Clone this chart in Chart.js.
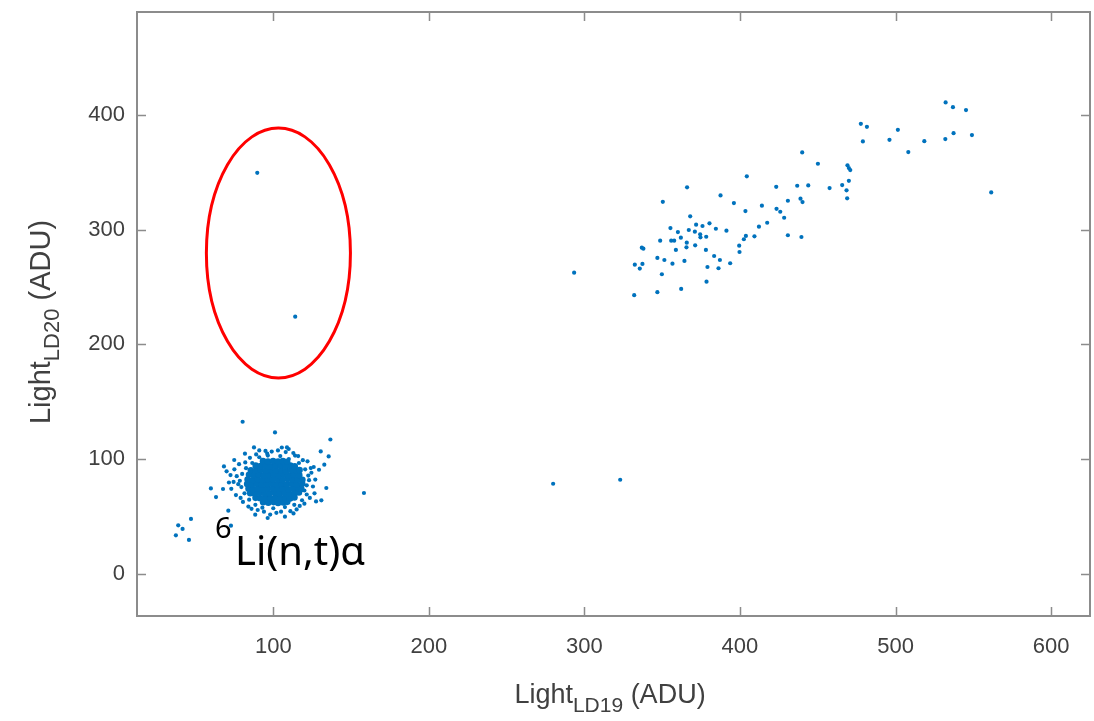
<!DOCTYPE html>
<html>
<head>
<meta charset="utf-8">
<script src="https://cdn.jsdelivr.net/npm/chart.js@4"></script>
<style>
  html, body { margin: 0; padding: 0; background: #fff; }
  #wrap { width: 1094px; height: 721px; }
</style>
</head>
<body>
<div id="wrap"><canvas id="scatterChart" width="1094" height="721"></canvas></div>
<script>
"use strict";

// axis ranges and tick labels
const xRange = [12.4, 625];
const yRange = [-37, 490];
const xTicks = [100, 200, 300, 400, 500, 600];
const yTicks = [0, 100, 200, 300, 400];

// saturated core of the 6Li(n,t)alpha blob
const corePoints = [
  [93.5,62.2],[96.8,61.8],[100.2,62.4],[103.1,61.7],[106.4,62.1],[109.0,62.6],
  [88.6,66.1],[91.5,65.7],[94.9,66.3],[98.0,65.8],[101.3,66.4],[104.6,65.9],[107.7,66.2],[110.8,65.6],[113.6,66.5],
  [85.2,70.2],[88.1,69.8],[91.4,70.4],[94.6,69.7],[97.7,70.1],[100.9,70.5],[104.2,69.9],[107.3,70.3],[110.4,69.6],[113.7,70.2],[116.5,70.8],
  [84.1,74.1],[87.0,73.8],[90.2,74.4],[93.3,73.7],[96.5,74.2],[99.8,74.5],[103.0,73.9],[106.1,74.3],[109.5,73.6],[112.6,74.2],[115.9,74.6],[118.0,73.9],
  [83.2,78.2],[86.4,77.9],[89.5,78.4],[92.7,77.6],[95.9,78.1],[99.1,78.5],[102.4,77.8],[105.6,78.3],[108.8,77.7],[112.0,78.4],[115.2,78.0],[118.6,78.3],
  [83.5,82.1],[86.9,81.7],[90.1,82.3],[93.2,81.8],[96.4,82.4],[99.7,81.9],[102.9,82.2],[106.0,81.6],[109.3,82.5],[112.5,81.9],[115.6,82.2],[118.7,81.8],
  [84.4,86.2],[87.6,85.8],[90.8,86.4],[94.0,85.7],[97.2,86.1],[100.4,86.5],[103.6,85.9],[106.8,86.3],[110.0,85.6],[113.3,86.2],[116.7,85.9],
  [85.6,90.1],[88.9,89.7],[92.1,90.3],[95.3,89.8],[98.5,90.4],[101.8,89.9],[105.0,90.2],[108.2,89.6],[111.4,90.3],[114.5,89.8],[116.9,90.4],
  [88.7,94.2],[91.9,93.8],[95.0,94.3],[98.3,93.7],[101.5,94.1],[104.7,94.4],[107.9,93.9],[111.0,94.2],[113.8,93.6],
  [93.4,98.1],[96.6,97.7],[99.9,98.3],[103.1,97.8],[106.2,98.2],[108.9,97.6]
];

// ragged edge of the blob
const fringePoints = [
  [78.5,81],[79.5,75.5],[80,87],[81.5,70],[82.5,92],[84.5,64.5],[86.5,96.5],[88.5,60],
  [91,101.5],[93,57.5],[96.5,103],[100,57],[104.5,102.5],[107.5,58],[110,100],[113.5,60],
  [116.5,96.5],[118.5,64],[120.5,91],[121.5,69],[122.5,85.5],[121.5,77],[123,81.5],[120,72.5],
  [76.5,85],[77.5,78],[82,97],[89,104],[95,107],[103,107.5],[108,106],[114,103],[119,99],
  [124.5,88],[125.5,76],[123.5,66],[117,59],[111,54.5],[102,53],[94,54],[86,56.5],[80.5,62.5],
  [76,68.5],[74.5,80],[72.5,86],[75,91],[78,95.5],[73,74],[79,66],[84,58.5],[90,55.5],
  [98,51.5],[105,54],[115,56],[120,61],[126.5,70],[127,82],[126,93],[122,98],[116,102.5],
  [99,106.5],[85,101],[71.5,79.5],[127.5,63],[113,52.5],[91,107.5],[105.5,110]
];

// isolated events around the blob
const haloPoints = [
  [80.3,132.5],[101.1,123.2],[136.7,117.0],[87.6,110.1],[108.8,110.1],[109.9,108.7],[112.9,105.2],
  [130.5,106.6],[135.6,102.2],[81.8,104.6],[96.1,104.6],[74.9,99.1],[132.8,95.0],[68.3,93.5],
  [70.0,89.2],[129.4,90.6],[124.1,92.1],[59.9,74.3],[67.7,73.8],[63.2,66.8],[134.1,74.7],
  [130.9,63.9],[158.3,70.3],[71.1,54.9],[88.4,51.4],[96.4,48.5],[107.5,49.7],[72.8,41.8],
  [47.1,47.7],[38.9,42.1],[41.7,39.0],[37.4,33.4],[45.8,29.4],[279.9,78.4],[323.0,81.9]
];

// the two events inside the red ellipse
const circledPoints = [[89.7,349.7],[114.1,224.2]];

// the high-light band
const bandPoints = [
  [477.7,392.4],[481.6,389.8],[501.5,387.2],[479.0,377.1],[496.1,378.5],[440.0,367.5],[450.1,357.6],
  [469.1,356.2],[470.0,353.8],[470.9,352.1],[404.4,346.6],[470.0,342.7],[366.0,337.0],[423.3,337.5],
  [436.8,338.4],[443.9,338.7],[457.6,336.4],[465.7,339.0],[468.5,334.4],[468.9,327.4],[387.5,330.0],
  [350.4,324.4],[396.1,323.3],[414.1,321.0],[430.8,325.3],[438.9,327.1],[440.2,324.2],[403.5,316.3],
  [423.5,318.3],[425.9,315.7],[368.0,311.7],[428.4,310.5],[417.5,306.1],[412.2,302.7],[355.3,301.5],
  [371.8,304.4],[375.9,303.3],[380.4,305.6],[384.5,300.9],[391.3,299.2],[367.1,299.8],[371.0,298.3],
  [360.1,298.0],[374.4,296.0],[374.6,293.4],[378.3,293.9],[362.0,293.1],[403.8,294.6],[402.5,291.7],
  [409.3,294.3],[430.8,295.2],[439.5,293.7],[348.7,290.5],[355.8,290.5],[357.7,290.5],[365.8,288.7],
  [365.6,284.7],[371.2,286.4],[399.5,286.1],[336.9,284.4],[337.9,283.5],[358.8,282.4],[378.1,282.4],
  [399.7,280.6],[346.9,275.4],[351.4,273.6],[364.3,272.8],[356.6,270.4],[383.4,277.1],[387.1,273.6],
  [393.7,270.8],[332.4,269.5],[337.3,270.2],[335.6,266.1],[379.1,267.5],[386.2,266.4],[349.8,261.2],
  [378.5,254.7],[362.2,248.4],[346.9,245.5],[332.0,242.9],[293.4,262.6],
  [532.2,411.1],[536.9,407.0],[545.3,404.4],[508.2,367.8],[518.5,377.3],[532.0,379.1],[537.3,384.3],
  [549.1,382.6],[561.5,332.6]
];

// ellipse annotation: centre and radii in data units
const ellipseCenter = [103.3, 279.7];
const ellipseRadii = [46.3, 109];
const annotationAnchor = [75.4, 7.8];

const dotColor = "#0072BD";
const axisColor = "#8c8c8c";
const textColor = "#404040";

function toXY(list) {
  return list.map(p => ({ x: p[0], y: p[1] }));
}

function drawSubscripted(ctx, parts, cx, cy) {
  // parts: [text, fontPx, dy]
  let total = 0;
  parts.forEach(p => {
    ctx.font = p[1] + "px 'Liberation Sans', Arial, sans-serif";
    total += ctx.measureText(p[0]).width;
  });
  let x = cx - total / 2;
  parts.forEach(p => {
    ctx.font = p[1] + "px 'Liberation Sans', Arial, sans-serif";
    ctx.fillText(p[0], x, cy + p[2]);
    x += ctx.measureText(p[0]).width;
  });
}

const matlabFrame = {
  id: "matlabFrame",
  afterDatasetsDraw(chart) {
    const { ctx, chartArea: a, scales } = chart;
    const xs = scales.x, ys = scales.y;
    ctx.save();

    // red ellipse
    const ecx = xs.getPixelForValue(ellipseCenter[0]);
    const ecy = ys.getPixelForValue(ellipseCenter[1]);
    const erx = Math.abs(xs.getPixelForValue(ellipseCenter[0] + ellipseRadii[0]) - ecx);
    const ery = Math.abs(ys.getPixelForValue(ellipseCenter[1] + ellipseRadii[1]) - ecy);
    ctx.beginPath();
    ctx.ellipse(ecx, ecy, erx, ery, 0, 0, Math.PI * 2);
    ctx.strokeStyle = "#ff0000";
    ctx.lineWidth = 3;
    ctx.stroke();

    // box with inward ticks
    ctx.strokeStyle = axisColor;
    ctx.lineWidth = 2;
    ctx.strokeRect(a.left, a.top, a.right - a.left, a.bottom - a.top);
    ctx.lineWidth = 1.5;
    ctx.beginPath();
    xTicks.forEach(v => {
      const px = Math.round(xs.getPixelForValue(v)) + 0.5;
      ctx.moveTo(px, a.bottom); ctx.lineTo(px, a.bottom - 9);
      ctx.moveTo(px, a.top); ctx.lineTo(px, a.top + 9);
    });
    yTicks.forEach(v => {
      const py = Math.round(ys.getPixelForValue(v)) + 0.5;
      ctx.moveTo(a.left, py); ctx.lineTo(a.left + 9, py);
      ctx.moveTo(a.right, py); ctx.lineTo(a.right - 9, py);
    });
    ctx.stroke();

    // annotation text
    const tx = xs.getPixelForValue(annotationAnchor[0]);
    const ty = ys.getPixelForValue(annotationAnchor[1]);
    ctx.fillStyle = "#000";
    ctx.textBaseline = "alphabetic";
    ctx.font = "29px 'Noto Sans', sans-serif";
    ctx.fillText("6", tx - 20, ty - 27);
    ctx.font = "40px 'Noto Sans', sans-serif";
    ctx.fillText("Li(n,t)\u03b1", tx, ty);

    // axis titles with subscripts
    ctx.fillStyle = textColor;
    drawSubscripted(ctx, [["Light", 27, 0], ["LD19", 21, 9], [" (ADU)", 27, 0]], 610, 703);
    ctx.translate(50, 322);
    ctx.rotate(-Math.PI / 2);
    drawSubscripted(ctx, [["Light", 29, 0], ["LD20", 22, 9], [" (ADU)", 29, 0]], 0, 0);
    ctx.restore();
  }
};

const dotStyle = {
  backgroundColor: dotColor,
  borderWidth: 0,
  pointRadius: 2.1,
  pointHoverRadius: 2.1
};

new Chart(document.getElementById("scatterChart").getContext("2d"), {
  type: "scatter",
  data: {
    datasets: [
      Object.assign({ label: "core", data: toXY(corePoints) }, dotStyle, { pointRadius: 3.3 }),
      Object.assign({ label: "fringe", data: toXY(fringePoints) }, dotStyle),
      Object.assign({ label: "halo", data: toXY(haloPoints) }, dotStyle),
      Object.assign({ label: "circled", data: toXY(circledPoints) }, dotStyle),
      Object.assign({ label: "band", data: toXY(bandPoints) }, dotStyle)
    ]
  },
  options: {
    responsive: false,
    animation: false,
    layout: { padding: { top: 12, right: 4, left: 0, bottom: 0 } },
    plugins: { legend: { display: false }, tooltip: { enabled: false } },
    scales: {
      x: {
        type: "linear",
        min: xRange[0],
        max: xRange[1],
        grid: { display: false, drawTicks: false, tickLength: 0 },
        border: { display: false },
        afterBuildTicks: s => { s.ticks = xTicks.map(v => ({ value: v })); },
        afterFit: s => { s.height = 105; s.paddingLeft = 0; s.paddingRight = 0; },
        ticks: {
          color: textColor,
          padding: 18,
          maxRotation: 0,
          font: { family: "'Liberation Sans', Arial, sans-serif", size: 22 }
        }
      },
      y: {
        type: "linear",
        min: yRange[0],
        max: yRange[1],
        grid: { display: false, drawTicks: false, tickLength: 0 },
        border: { display: false },
        afterBuildTicks: s => { s.ticks = yTicks.map(v => ({ value: v })); },
        afterFit: s => { s.width = 137; s.paddingTop = 0; s.paddingBottom = 0; },
        ticks: {
          color: textColor,
          padding: 12,
          font: { family: "'Liberation Sans', Arial, sans-serif", size: 22 }
        }
      }
    }
  },
  plugins: [matlabFrame]
});
</script>
</body>
</html>
